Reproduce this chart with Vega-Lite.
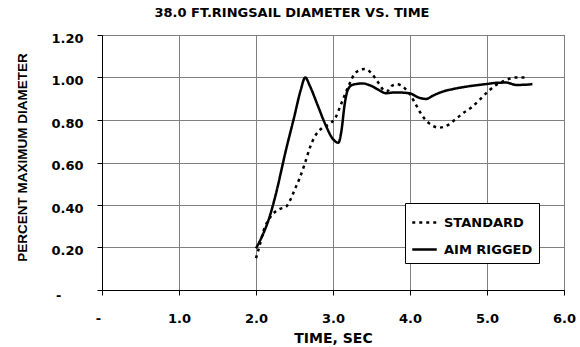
{
  "$schema": "https://vega.github.io/schema/vega-lite/v6.json",
  "autosize": "none",
  "width": 462,
  "height": 255,
  "padding": {"left": 102, "top": 35, "right": 16, "bottom": 57},
  "background": "white",
  "config": {
    "font": "DejaVu Sans",
    "view": {"stroke": "#000", "strokeWidth": 1}
  },
  "title": {
    "text": "38.0 FT.RINGSAIL DIAMETER VS. TIME",
    "fontSize": 13,
    "fontWeight": "bold",
    "font": "DejaVu Sans",
    "color": "#000",
    "anchor": "middle",
    "dx": -41,
    "offset": 12
  },
  "data": {
    "values": [
      {"t": 2.00, "v": 0.15, "series": "STANDARD"},
      {"t": 2.04, "v": 0.20, "series": "STANDARD"},
      {"t": 2.10, "v": 0.28, "series": "STANDARD"},
      {"t": 2.19, "v": 0.345, "series": "STANDARD"},
      {"t": 2.30, "v": 0.38, "series": "STANDARD"},
      {"t": 2.39, "v": 0.392, "series": "STANDARD"},
      {"t": 2.45, "v": 0.427, "series": "STANDARD"},
      {"t": 2.50, "v": 0.47, "series": "STANDARD"},
      {"t": 2.56, "v": 0.52, "series": "STANDARD"},
      {"t": 2.63, "v": 0.59, "series": "STANDARD"},
      {"t": 2.70, "v": 0.67, "series": "STANDARD"},
      {"t": 2.76, "v": 0.72, "series": "STANDARD"},
      {"t": 2.85, "v": 0.76, "series": "STANDARD"},
      {"t": 2.95, "v": 0.78, "series": "STANDARD"},
      {"t": 3.03, "v": 0.81, "series": "STANDARD"},
      {"t": 3.10, "v": 0.87, "series": "STANDARD"},
      {"t": 3.19, "v": 0.95, "series": "STANDARD"},
      {"t": 3.30, "v": 1.025, "series": "STANDARD"},
      {"t": 3.41, "v": 1.04, "series": "STANDARD"},
      {"t": 3.50, "v": 1.02, "series": "STANDARD"},
      {"t": 3.58, "v": 0.98, "series": "STANDARD"},
      {"t": 3.66, "v": 0.94, "series": "STANDARD"},
      {"t": 3.70, "v": 0.935, "series": "STANDARD"},
      {"t": 3.76, "v": 0.96, "series": "STANDARD"},
      {"t": 3.83, "v": 0.968, "series": "STANDARD"},
      {"t": 3.93, "v": 0.95, "series": "STANDARD"},
      {"t": 4.00, "v": 0.92, "series": "STANDARD"},
      {"t": 4.08, "v": 0.87, "series": "STANDARD"},
      {"t": 4.16, "v": 0.82, "series": "STANDARD"},
      {"t": 4.25, "v": 0.784, "series": "STANDARD"},
      {"t": 4.38, "v": 0.764, "series": "STANDARD"},
      {"t": 4.47, "v": 0.772, "series": "STANDARD"},
      {"t": 4.58, "v": 0.80, "series": "STANDARD"},
      {"t": 4.68, "v": 0.83, "series": "STANDARD"},
      {"t": 4.80, "v": 0.86, "series": "STANDARD"},
      {"t": 4.90, "v": 0.894, "series": "STANDARD"},
      {"t": 5.03, "v": 0.94, "series": "STANDARD"},
      {"t": 5.12, "v": 0.965, "series": "STANDARD"},
      {"t": 5.20, "v": 0.98, "series": "STANDARD"},
      {"t": 5.30, "v": 0.995, "series": "STANDARD"},
      {"t": 5.38, "v": 1.00, "series": "STANDARD"},
      {"t": 5.51, "v": 1.00, "series": "STANDARD"},
      {"t": 2.00, "v": 0.196, "series": "AIM RIGGED"},
      {"t": 2.10, "v": 0.27, "series": "AIM RIGGED"},
      {"t": 2.17, "v": 0.337, "series": "AIM RIGGED"},
      {"t": 2.25, "v": 0.44, "series": "AIM RIGGED"},
      {"t": 2.39, "v": 0.66, "series": "AIM RIGGED"},
      {"t": 2.50, "v": 0.82, "series": "AIM RIGGED"},
      {"t": 2.58, "v": 0.94, "series": "AIM RIGGED"},
      {"t": 2.64, "v": 1.00, "series": "AIM RIGGED"},
      {"t": 2.70, "v": 0.96, "series": "AIM RIGGED"},
      {"t": 2.80, "v": 0.87, "series": "AIM RIGGED"},
      {"t": 2.90, "v": 0.78, "series": "AIM RIGGED"},
      {"t": 3.00, "v": 0.71, "series": "AIM RIGGED"},
      {"t": 3.07, "v": 0.693, "series": "AIM RIGGED"},
      {"t": 3.11, "v": 0.75, "series": "AIM RIGGED"},
      {"t": 3.15, "v": 0.87, "series": "AIM RIGGED"},
      {"t": 3.19, "v": 0.94, "series": "AIM RIGGED"},
      {"t": 3.25, "v": 0.965, "series": "AIM RIGGED"},
      {"t": 3.38, "v": 0.972, "series": "AIM RIGGED"},
      {"t": 3.50, "v": 0.96, "series": "AIM RIGGED"},
      {"t": 3.60, "v": 0.94, "series": "AIM RIGGED"},
      {"t": 3.69, "v": 0.926, "series": "AIM RIGGED"},
      {"t": 3.80, "v": 0.93, "series": "AIM RIGGED"},
      {"t": 3.99, "v": 0.926, "series": "AIM RIGGED"},
      {"t": 4.12, "v": 0.905, "series": "AIM RIGGED"},
      {"t": 4.21, "v": 0.899, "series": "AIM RIGGED"},
      {"t": 4.30, "v": 0.915, "series": "AIM RIGGED"},
      {"t": 4.42, "v": 0.933, "series": "AIM RIGGED"},
      {"t": 4.55, "v": 0.945, "series": "AIM RIGGED"},
      {"t": 4.68, "v": 0.954, "series": "AIM RIGGED"},
      {"t": 4.85, "v": 0.963, "series": "AIM RIGGED"},
      {"t": 4.99, "v": 0.969, "series": "AIM RIGGED"},
      {"t": 5.12, "v": 0.975, "series": "AIM RIGGED"},
      {"t": 5.25, "v": 0.976, "series": "AIM RIGGED"},
      {"t": 5.38, "v": 0.965, "series": "AIM RIGGED"},
      {"t": 5.50, "v": 0.966, "series": "AIM RIGGED"},
      {"t": 5.59, "v": 0.969, "series": "AIM RIGGED"}
    ]
  },
  "mark": {"type": "line", "interpolate": "monotone", "strokeWidth": 2.5, "color": "#000"},
  "encoding": {
    "x": {
      "field": "t",
      "type": "quantitative",
      "scale": {"domain": [0, 6], "nice": false, "zero": false},
      "axis": {
        "values": [0, 1, 2, 3, 4, 5, 6],
        "labelExpr": "datum.value == 0 ? '-' : format(datum.value, '.1f')",
        "title": "TIME, SEC",
        "titleFont": "DejaVu Sans",
        "titleFontSize": 14,
        "titleFontWeight": "bold",
        "titleColor": "#000",
        "titleBaseline": "middle",
        "titleY": 48,
        "labelFont": "DejaVu Sans",
        "labelFontSize": 13,
        "labelFontWeight": "bold",
        "labelColor": "#000",
        "labelPadding": 17,
        "labelOffset": {"condition": {"test": "datum.value == 0", "value": -4}, "value": 0},
        "labelFlush": false,
        "domainColor": "#000",
        "tickColor": "#000",
        "tickSize": 5,
        "gridColor": "#808080",
        "gridOpacity": 1,
        "gridWidth": 1
      }
    },
    "y": {
      "field": "v",
      "type": "quantitative",
      "scale": {"domain": [0, 1.2], "nice": false},
      "axis": {
        "values": [0, 0.2, 0.4, 0.6, 0.8, 1.0, 1.2],
        "labelExpr": "datum.value == 0 ? '-' : format(datum.value, '.2f')",
        "title": "PERCENT MAXIMUM DIAMETER",
        "titleFont": "Liberation Sans",
        "titleFontSize": 13.5,
        "titleFontWeight": "bold",
        "titleColor": "#000",
        "titleAngle": -90,
        "titleAlign": "center",
        "titleBaseline": "middle",
        "titleX": -80,
        "titleY": 122,
        "labelFont": "DejaVu Sans",
        "labelFontSize": 13,
        "labelFontWeight": "bold",
        "labelColor": "#000",
        "labelPadding": {"condition": {"test": "datum.value == 0", "value": 36}, "value": 14},
        "labelOffset": {"condition": {"test": "datum.value == 0", "value": 5}, "value": 3},
        "labelFlush": false,
        "domainColor": "#000",
        "tickColor": "#000",
        "tickSize": 5,
        "gridColor": "#808080",
        "gridOpacity": 1,
        "gridWidth": 1
      }
    },
    "strokeDash": {
      "field": "series",
      "type": "nominal",
      "scale": {"domain": ["STANDARD", "AIM RIGGED"], "range": [[3, 4], [1, 0]]},
      "legend": {
        "title": null,
        "orient": "none",
        "legendX": 303,
        "legendY": 168,
        "fillColor": "white",
        "strokeColor": "#000",
        "padding": 6,
        "rowPadding": 6,
        "symbolType": "stroke",
        "symbolSize": 600,
        "symbolStrokeWidth": 2.5,
        "symbolStrokeColor": "#000",
        "labelFont": "DejaVu Sans",
        "labelFontSize": 13,
        "labelFontWeight": "bold",
        "labelColor": "#000",
        "labelOffset": 6
      }
    }
  }
}
